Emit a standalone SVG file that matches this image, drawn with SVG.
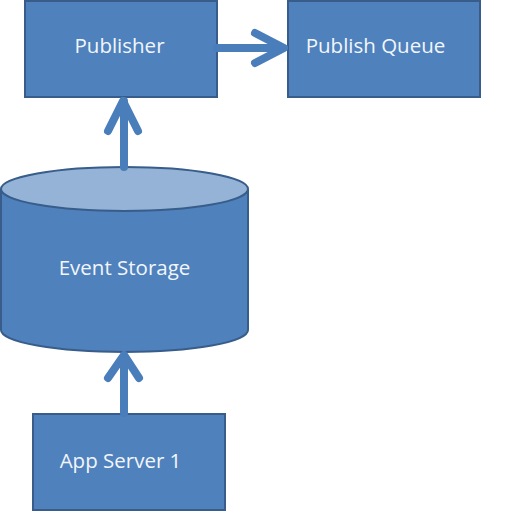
<svg xmlns="http://www.w3.org/2000/svg" width="511" height="511" viewBox="0 0 511 511">
<style>
.box{fill:#4f81bd;stroke:#385d8a;stroke-width:2}
.lbl{font-family:"Open Sans","Liberation Sans",sans-serif;font-size:20.5px;fill:#f2f6fb}
.con{fill:none;stroke:#4a7ebb;stroke-width:8;stroke-linecap:round;stroke-linejoin:round}
</style>
<rect width="511" height="511" fill="#ffffff"/>
<g id="publisher"><rect class="box" x="25" y="1" width="192" height="96"/><text class="lbl" x="119.5" y="53" text-anchor="middle">Publisher</text></g>
<g id="publish-queue"><rect class="box" x="288" y="1" width="192" height="96"/><text class="lbl" x="375.5" y="53" text-anchor="middle">Publish Queue</text></g>
<g id="event-storage">
<path class="box" d="M1,189 V330 A123.5,22 0 0 0 248,330 V189"/>
<ellipse cx="124.5" cy="189" rx="123.5" ry="22" fill="#95b3d7" stroke="#385d8a" stroke-width="2"/>
<text class="lbl" x="124.5" y="275" text-anchor="middle">Event Storage</text>
</g>
<g id="app-server-1"><rect class="box" x="33" y="414" width="192" height="96"/><text class="lbl" x="120.5" y="468" text-anchor="middle">App Server 1</text></g>
<g id="connectors">
<path class="con" d="M217,48 H283 M255,33 L284,48 L255,63"/>
<path class="con" d="M124,167 V101 M108,131 L123,101 L138,131"/>
<path class="con" d="M124,413 V356 M108,378 L124,355 L139,378"/>
</g>
</svg>
